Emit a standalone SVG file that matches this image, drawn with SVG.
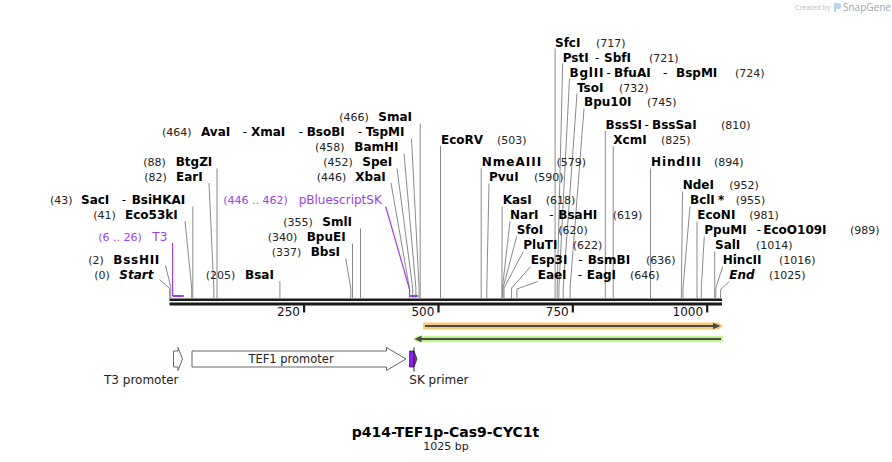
<svg xmlns="http://www.w3.org/2000/svg" width="892" height="462" viewBox="0 0 892 462">
<style>
text{font-family:"DejaVu Sans",Verdana,sans-serif}
.n{font-weight:bold;font-size:12px;fill:#000}
.ni{font-weight:bold;font-style:italic;font-size:12px;fill:#000}
.p{font-size:11px;fill:#222}
.d{font-size:12px;fill:#000}
.f{font-size:12px;fill:#9d3ef0}
.fp{font-size:11px;fill:#9d3ef0}
.ln{stroke:#8a8a8a;stroke-width:1;fill:none}
.lp{stroke:#9d3ef0;stroke-width:1.2;fill:none}
.ft{font-size:12px;fill:#222}
.tk{font-size:12px;fill:#111}
.out{fill:#fff;stroke:#666;stroke-width:1}
</style>
<rect width="892" height="462" fill="#fff"/>
<g id="watermark">
<text x="795" y="10" style="font-family:'Open Sans','DejaVu Sans',sans-serif;font-size:7px;fill:#bbb">Created by</text>
<path d="M834 3 h4 a3 3 0 0 1 0 6 h-2 v3 h-2 z" fill="#b8d3ee"/>
<text x="843" y="11" style="font-family:'Open Sans','DejaVu Sans',sans-serif;font-size:10px;fill:#9ea6ae">SnapGene</text>
</g>
<g id="backbone">
<rect x="169.5" y="298.5" width="552.5" height="2.5" fill="#1a1a1a"/>
<rect x="169.5" y="302.5" width="552.5" height="3" fill="#1a1a1a"/>
<rect x="303" y="305" width="2.2" height="7.5" fill="#1a1a1a"/>
<rect x="437.4" y="305" width="2.2" height="7.5" fill="#1a1a1a"/>
<rect x="571.7" y="305" width="2.2" height="7.5" fill="#1a1a1a"/>
<rect x="706.1" y="305" width="2.2" height="7.5" fill="#1a1a1a"/>
<text class="tk" x="300" y="316" text-anchor="end">250</text>
<text class="tk" x="434.4" y="316" text-anchor="end">500</text>
<text class="tk" x="568.7" y="316" text-anchor="end">750</text>
<text class="tk" x="703.1" y="316" text-anchor="end">1000</text>
</g>
<g id="connectors">
<polyline class="ln" points="159.5,279.5 169.7,288.5 169.7,298.5"/>
<polyline class="ln" points="165.5,265.5 170.8,287 170.8,298.5"/>
<polyline class="ln" points="185,221 191.7,288 191.7,298.5"/>
<polyline class="ln" points="192.8,206.5 192.8,298.5"/>
<polyline class="ln" points="209,183 213.8,288 213.8,298.5"/>
<polyline class="ln" points="217,168.5 217,298.5"/>
<polyline class="ln" points="279.9,281 279.9,298.5"/>
<polyline class="ln" points="345.7,258.5 350.8,288 350.8,298.5"/>
<polyline class="ln" points="352.5,243.5 352.5,298.5"/>
<polyline class="ln" points="360.5,228.5 360.5,298.5"/>
<polyline class="ln" points="391,183 409.4,288 409.4,298.5"/>
<polyline class="ln" points="397,168.5 412.7,288 412.7,298.5"/>
<polyline class="ln" points="404,153.5 415.9,288 415.9,298.5"/>
<polyline class="ln" points="411.5,138.5 419.1,288 419.1,298.5"/>
<polyline class="ln" points="420.2,123.5 420.2,298.5"/>
<polyline class="ln" points="440.5,146 440.5,298.5"/>
<polyline class="ln" points="481.2,168.5 481.2,298.5"/>
<polyline class="ln" points="489,183.5 486.8,288 486.8,298.5"/>
<polyline class="ln" points="502.2,206.5 501.9,288 501.9,298.5"/>
<polyline class="ln" points="510,221.5 502.4,288 502.4,298.5"/>
<polyline class="ln" points="516.7,236.5 503,288 503,298.5"/>
<polyline class="ln" points="523.3,251.5 504,288 504,298.5"/>
<polyline class="ln" points="530.7,266.5 511.6,288 511.6,298.5"/>
<polyline class="ln" points="537.7,281.5 516.9,289 516.9,298.5"/>
<polyline class="ln" points="555.1,48.5 555.1,298.5"/>
<polyline class="ln" points="562.7,63.5 557.2,288 557.2,298.5"/>
<polyline class="ln" points="569.5,78.5 558.9,288 558.9,298.5"/>
<polyline class="ln" points="577,93.5 563.2,288 563.2,298.5"/>
<polyline class="ln" points="584,108.5 570.1,288 570.1,298.5"/>
<polyline class="ln" points="605.3,131 605.3,298.5"/>
<polyline class="ln" points="613.2,146 613.2,298.5"/>
<polyline class="ln" points="650.5,168.5 650.5,298.5"/>
<polyline class="ln" points="682.5,191.5 681.4,288 681.4,298.5"/>
<polyline class="ln" points="690,206.5 683,288 683,298.5"/>
<polyline class="ln" points="697,221.5 697,298.5"/>
<polyline class="ln" points="704.3,236.5 701.3,288 701.3,298.5"/>
<polyline class="ln" points="714.7,251.5 714.7,298.5"/>
<polyline class="ln" points="722.7,266.5 715.8,288 715.8,298.5"/>
<polyline class="ln" points="729.3,281.5 720.6,289.5 720.6,298.5"/>
<polyline class="lp" points="172.6,243 172.6,296"/>
<polyline class="lp" points="385.7,206.5 409.6,289.5 409.6,295"/>
</g>
<g id="site-start"><text class="p" x="94.3" y="279">(0)</text><text class="ni" x="119.3" y="279">Start</text></g>
<g id="site-bsshii"><text class="p" x="88.3" y="264">(2)</text><text class="n" x="113.3" y="264" textLength="46" lengthAdjust="spacing">BssHII</text></g>
<g id="feature-t3"><text class="fp" x="98.3" y="241">(6 .. 26)</text><text class="f" x="152.3" y="241">T3</text><rect x="172.6" y="295" width="11.1" height="2" fill="#9d3ef0"/></g>
<g id="site-eco53ki"><text class="p" x="93.3" y="219">(41)</text><text class="n" x="125" y="219">Eco53kI</text></g>
<g id="site-saci"><text class="p" x="50" y="204">(43)</text><text class="n" x="81" y="204">SacI</text><text class="d" x="121.7" y="204">-</text><text class="n" x="131.7" y="204">BsiHKAI</text></g>
<g id="site-eari"><text class="p" x="144.3" y="181">(82)</text><text class="n" x="176" y="181">EarI</text></g>
<g id="site-btgzi"><text class="p" x="143.3" y="166">(88)</text><text class="n" x="175.7" y="166">BtgZI</text></g>
<g id="site-bsai"><text class="p" x="205.7" y="279">(205)</text><text class="n" x="245" y="279">BsaI</text></g>
<g id="site-bbsi"><text class="p" x="271.7" y="256">(337)</text><text class="n" x="310.7" y="256">BbsI</text></g>
<g id="site-bpuei"><text class="p" x="267.7" y="241">(340)</text><text class="n" x="306.7" y="241">BpuEI</text></g>
<g id="site-smli"><text class="p" x="283.3" y="226">(355)</text><text class="n" x="322.3" y="226">SmlI</text></g>
<g id="feature-pbluescriptsk"><text class="fp" x="223.3" y="204">(446 .. 462)</text><text class="f" x="298.7" y="204">pBluescriptSK</text><rect x="409.4" y="295" width="8.6" height="2" fill="#9d3ef0"/></g>
<g id="site-xbai"><text class="p" x="316.7" y="181">(446)</text><text class="n" x="355.3" y="181">XbaI</text></g>
<g id="site-spei"><text class="p" x="323.3" y="166">(452)</text><text class="n" x="362.3" y="166">SpeI</text></g>
<g id="site-bamhi"><text class="p" x="315" y="151">(458)</text><text class="n" x="354.3" y="151">BamHI</text></g>
<g id="site-avai"><text class="p" x="162" y="136">(464)</text><text class="n" x="201" y="136">AvaI</text><text class="d" x="242.7" y="136">-</text><text class="n" x="251" y="136">XmaI</text><text class="d" x="298.7" y="136">-</text><text class="n" x="306.7" y="136">BsoBI</text><text class="d" x="357.7" y="136">-</text><text class="n" x="365.7" y="136">TspMI</text></g>
<g id="site-smai"><text class="p" x="339.3" y="121">(466)</text><text class="n" x="378.3" y="121">SmaI</text></g>
<g id="site-ecorv"><text class="n" x="441" y="143.5">EcoRV</text><text class="p" x="497" y="143.5">(503)</text></g>
<g id="site-nmeaiii"><text class="n" x="481.7" y="166" textLength="59.5" lengthAdjust="spacing">NmeAIII</text><text class="p" x="556.5" y="166">(579)</text></g>
<g id="site-pvui"><text class="n" x="489" y="181">PvuI</text><text class="p" x="534" y="181">(590)</text></g>
<g id="site-kasi"><text class="n" x="502.7" y="204">KasI</text><text class="p" x="545.7" y="204">(618)</text></g>
<g id="site-nari"><text class="n" x="510" y="219">NarI</text><text class="d" x="549.3" y="219">-</text><text class="n" x="558.3" y="219">BsaHI</text><text class="p" x="612.7" y="219">(619)</text></g>
<g id="site-sfoi"><text class="n" x="516.7" y="234">SfoI</text><text class="p" x="558.3" y="234">(620)</text></g>
<g id="site-pluti"><text class="n" x="523.3" y="249">PluTI</text><text class="p" x="572.7" y="249">(622)</text></g>
<g id="site-esp3i"><text class="n" x="530.7" y="264">Esp3I</text><text class="d" x="578.3" y="264">-</text><text class="n" x="587.7" y="264">BsmBI</text><text class="p" x="646" y="264">(636)</text></g>
<g id="site-eaei"><text class="n" x="537.7" y="279">EaeI</text><text class="d" x="577.7" y="279">-</text><text class="n" x="586.7" y="279">EagI</text><text class="p" x="630" y="279">(646)</text></g>
<g id="site-sfci"><text class="n" x="555" y="46.5">SfcI</text><text class="p" x="596" y="46.5">(717)</text></g>
<g id="site-psti"><text class="n" x="562.7" y="61.5">PstI</text><text class="d" x="595" y="61.5">-</text><text class="n" x="604" y="61.5">SbfI</text><text class="p" x="649" y="61.5">(721)</text></g>
<g id="site-bglii"><text class="n" x="569.5" y="76.5" textLength="34" lengthAdjust="spacing">BglII</text><text class="d" x="606.5" y="76.5">-</text><text class="n" x="614" y="76.5">BfuAI</text><text class="d" x="663" y="76.5">-</text><text class="n" x="676" y="76.5">BspMI</text><text class="p" x="735" y="76.5">(724)</text></g>
<g id="site-tsoi"><text class="n" x="577" y="91.5">TsoI</text><text class="p" x="619" y="91.5">(732)</text></g>
<g id="site-bpu10i"><text class="n" x="584" y="106">Bpu10I</text><text class="p" x="647" y="106">(745)</text></g>
<g id="site-bsssi"><text class="n" x="605.5" y="128.5">BssSI</text><text class="d" x="644.5" y="128.5">-</text><text class="n" x="652" y="128.5">BssSaI</text><text class="p" x="721" y="128.5">(810)</text></g>
<g id="site-xcmi"><text class="n" x="613.3" y="143.5">XcmI</text><text class="p" x="661" y="143.5">(825)</text></g>
<g id="site-hindiii"><text class="n" x="651" y="166" textLength="50" lengthAdjust="spacing">HindIII</text><text class="p" x="714" y="166">(894)</text></g>
<g id="site-ndei"><text class="n" x="682.7" y="189">NdeI</text><text class="p" x="729.3" y="189">(952)</text></g>
<g id="site-bcli"><text class="n" x="690" y="204">BclI</text><text class="n" x="718" y="204">*</text><text class="p" x="735.7" y="204">(955)</text></g>
<g id="site-econi"><text class="n" x="697.3" y="219">EcoNI</text><text class="p" x="749.3" y="219">(981)</text></g>
<g id="site-ppumi"><text class="n" x="704.3" y="234">PpuMI</text><text class="d" x="756.7" y="234">-</text><text class="n" x="763.3" y="234">EcoO109I</text><text class="p" x="850" y="234">(989)</text></g>
<g id="site-sali"><text class="n" x="715" y="249">SalI</text><text class="p" x="756" y="249">(1014)</text></g>
<g id="site-hincii"><text class="n" x="722.7" y="264">HincII</text><text class="p" x="779" y="264">(1016)</text></g>
<g id="site-end"><text class="ni" x="729.3" y="279">End</text><text class="p" x="769" y="279">(1025)</text></g>
<g id="arrow-forward">
<polygon points="423,322.5 718.5,322.5 723,326 718.5,329.5 423,329.5" fill="#fbc97c"/>
<line x1="425" y1="326" x2="714" y2="326" stroke="#4a4a4a" stroke-width="2"/>
<polygon points="713,322.8 720.5,326 713,329.2" fill="#4a4a4a"/>
</g>
<g id="arrow-reverse">
<polygon points="413,339 417.5,335.8 723,335.8 723,342.2 417.5,342.2" fill="#c4f28c"/>
<line x1="420" y1="339" x2="721" y2="339" stroke="#4a4a4a" stroke-width="2"/>
<polygon points="421.5,335.8 414.5,339 421.5,342.2" fill="#4a4a4a"/>
</g>
<g id="feature-t3-promoter">
<polygon class="out" points="173.5,351 178,351 178,347.5 182.5,359 178,370.5 178,367 173.5,367"/>
<text class="ft" x="104" y="384">T3 promoter</text>
</g>
<g id="feature-tef1-promoter">
<polygon class="out" points="192,351 386.5,351 386.5,347.5 406,359 386.5,370.5 386.5,367 192,367"/>
<text x="291" y="363" text-anchor="middle" style="font-size:11.5px;fill:#222">TEF1 promoter</text>
</g>
<g id="feature-sk-primer">
<polygon points="409.5,351 414,351 417,359 414,367 409.5,367" fill="#8f1fe6" stroke="#333" stroke-width="0.8"/>
<line x1="414" y1="347.5" x2="414" y2="371.5" stroke="#222" stroke-width="1"/>
<text class="ft" x="409.3" y="384">SK primer</text>
</g>
<g id="title">
<text x="445.5" y="436.5" text-anchor="middle" style="font-weight:bold;font-size:14px;fill:#000">p414-TEF1p-Cas9-CYC1t</text>
<text x="446" y="449.5" text-anchor="middle" style="font-size:11px;fill:#222">1025 bp</text>
</g>
</svg>
